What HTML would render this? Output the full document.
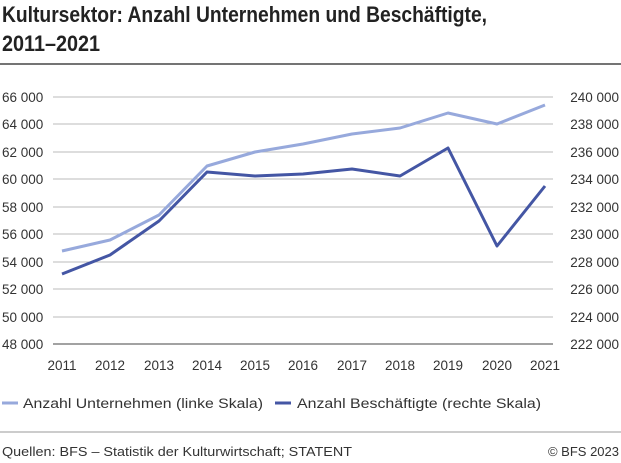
<!DOCTYPE html>
<html><head><style>body{margin:0;background:#fff}svg{display:block}</style></head><body>
<svg width="621" height="463" viewBox="0 0 621 463" xmlns="http://www.w3.org/2000/svg" font-family="Liberation Sans, sans-serif">
<rect width="621" height="463" fill="#fff"/>
<text x="2" y="22" font-size="22" font-weight="bold" fill="#222" textLength="485" lengthAdjust="spacingAndGlyphs">Kultursektor: Anzahl Unternehmen und Beschäftigte,</text>
<text x="2" y="51" font-size="22" font-weight="bold" fill="#222" textLength="98" lengthAdjust="spacingAndGlyphs">2011–2021</text>
<line x1="0" y1="64" x2="621" y2="64" stroke="#222" stroke-width="1.3"/>
<g stroke="#bbb" stroke-width="1">
<line x1="53" y1="97" x2="553" y2="97"/><line x1="53" y1="124" x2="553" y2="124"/><line x1="53" y1="152" x2="553" y2="152"/><line x1="53" y1="179" x2="553" y2="179"/><line x1="53" y1="207" x2="553" y2="207"/><line x1="53" y1="234" x2="553" y2="234"/><line x1="53" y1="262" x2="553" y2="262"/><line x1="53" y1="289" x2="553" y2="289"/><line x1="53" y1="317" x2="553" y2="317"/><line x1="53" y1="344" x2="553" y2="344" stroke="#444"/>
</g>
<g font-size="13.5" fill="#333">
<text x="2" y="102">66 000</text><text x="2" y="129">64 000</text><text x="2" y="157">62 000</text><text x="2" y="184">60 000</text><text x="2" y="212">58 000</text><text x="2" y="239">56 000</text><text x="2" y="267">54 000</text><text x="2" y="294">52 000</text><text x="2" y="322">50 000</text><text x="2" y="349">48 000</text>
</g>
<g font-size="13.5" fill="#333" text-anchor="end">
<text x="619" y="102">240 000</text><text x="619" y="129">238 000</text><text x="619" y="157">236 000</text><text x="619" y="184">234 000</text><text x="619" y="212">232 000</text><text x="619" y="239">230 000</text><text x="619" y="267">228 000</text><text x="619" y="294">226 000</text><text x="619" y="322">224 000</text><text x="619" y="349">222 000</text>
</g>
<g font-size="13.5" fill="#333" text-anchor="middle">
<text x="62" y="370">2011</text><text x="110" y="370">2012</text><text x="159" y="370">2013</text><text x="207" y="370">2014</text><text x="255" y="370">2015</text><text x="303" y="370">2016</text><text x="352" y="370">2017</text><text x="400" y="370">2018</text><text x="448" y="370">2019</text><text x="497" y="370">2020</text><text x="545" y="370">2021</text>
</g>
<polyline fill="none" stroke="#97a9dc" stroke-width="3" stroke-linejoin="round" points="62,251 110,240 159,215 207,166 255,152 303,144 352,134 400,128 448,113 497,124 545,105"/>
<polyline fill="none" stroke="#4456a4" stroke-width="3" stroke-linejoin="round" points="62,274 110,255 159,221 207,172 255,176 303,174 352,169 400,176 448,148 497,246 545,186"/>
<line x1="2" y1="403" x2="18" y2="403" stroke="#97a9dc" stroke-width="3"/>
<text x="23" y="408" font-size="13.5" fill="#333" textLength="240" lengthAdjust="spacingAndGlyphs">Anzahl Unternehmen (linke Skala)</text>
<line x1="275" y1="403" x2="291" y2="403" stroke="#4456a4" stroke-width="3"/>
<text x="297" y="408" font-size="13.5" fill="#333" textLength="244" lengthAdjust="spacingAndGlyphs">Anzahl Beschäftigte (rechte Skala)</text>
<line x1="0" y1="432" x2="621" y2="432" stroke="#999" stroke-width="1"/>
<text x="2" y="456" font-size="13" fill="#333" textLength="350" lengthAdjust="spacingAndGlyphs">Quellen: BFS – Statistik der Kulturwirtschaft; STATENT</text>
<text x="619" y="456" font-size="13" fill="#333" text-anchor="end">© BFS 2023</text>
</svg>
</body></html>
